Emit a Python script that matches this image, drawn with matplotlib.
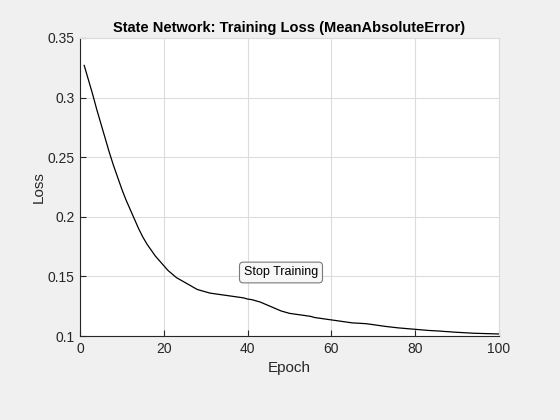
import matplotlib
matplotlib.use('Agg')

import numpy as np
import matplotlib.pyplot as plt

# Training loss per epoch
epochs = list(range(1, 101))
loss = [
    0.327, 0.315, 0.303, 0.290, 0.278, 0.266, 0.254, 0.243, 0.233, 0.223,
    0.214, 0.206, 0.198, 0.190, 0.183, 0.177, 0.172, 0.167, 0.163, 0.159,
    0.155, 0.152, 0.149, 0.147, 0.145, 0.143, 0.141, 0.139, 0.138, 0.137,
    0.136, 0.1355, 0.135, 0.1345, 0.134, 0.1335, 0.133, 0.1325, 0.132, 0.131,
    0.1305, 0.1295, 0.1285, 0.127, 0.1255, 0.124, 0.1225, 0.121, 0.120, 0.119,
    0.1185, 0.118, 0.1175, 0.117, 0.1165, 0.1155, 0.115, 0.1145, 0.114, 0.1135,
    0.113, 0.1125, 0.112, 0.1115, 0.111, 0.1108, 0.1106, 0.1104, 0.110, 0.1095,
    0.109, 0.1085, 0.108, 0.1076, 0.1072, 0.1068, 0.1065, 0.1062, 0.1059, 0.1056,
    0.1053, 0.105, 0.1047, 0.1045, 0.1043, 0.1041, 0.1038, 0.1036, 0.1033, 0.1031,
    0.1029, 0.1027, 0.1025, 0.1023, 0.1022, 0.1021, 0.102, 0.1019, 0.1018, 0.1017,
]

x_ticks = [0, 20, 40, 60, 80, 100]
y_ticks = [0.1, 0.15, 0.2, 0.25, 0.3, 0.35]
y_tick_labels = ['0.1', '0.15', '0.2', '0.25', '0.3', '0.35']

TEXT_COLOR = '#262626'
GRID_COLOR = '#dcdcdc'
BG_COLOR = '#f0f0f0'

plt.rcParams['font.family'] = ['Liberation Sans', 'DejaVu Sans']

fig = plt.figure(figsize=(5.6, 4.2), dpi=100, facecolor=BG_COLOR)
ax = fig.add_axes([80 / 560, 84 / 420, 419 / 560, 298 / 420])
ax.set_facecolor('white')

ax.plot(epochs, loss, color='black', linewidth=0.9)

ax.set_xlim(0, 100)
ax.set_ylim(0.1, 0.35)
ax.set_xticks(x_ticks)
ax.set_yticks(y_ticks)
ax.set_yticklabels(y_tick_labels)
ax.grid(True, color=GRID_COLOR, linewidth=0.8)
ax.set_axisbelow(True)

ax.tick_params(direction='in', length=4, width=0.8, colors=TEXT_COLOR,
               labelsize=10, pad=4)
for side in ['left', 'bottom']:
    ax.spines[side].set_color(TEXT_COLOR)
    ax.spines[side].set_linewidth(0.8)
for side in ['top', 'right']:
    ax.spines[side].set_color(GRID_COLOR)
    ax.spines[side].set_linewidth(0.8)

ax.set_xlabel('Epoch', fontsize=11, color=TEXT_COLOR, labelpad=4)
ax.set_ylabel('Loss', fontsize=11, color=TEXT_COLOR, labelpad=1)
ax.set_title('State Network: Training Loss (MeanAbsoluteError)',
             fontsize=10.5, fontweight='bold', color='black', pad=4)

# "Stop Training" button drawn as a rounded box
fig.text(281 / 560, 1 - 272.5 / 420, 'Stop Training', fontsize=9,
         ha='center', va='center', color='black',
         bbox=dict(boxstyle='round,pad=0.35,rounding_size=0.3',
                   facecolor='#f7f7f7', edgecolor='#7a7a7a', linewidth=0.8))

fig.savefig('out.png', dpi=100, facecolor=BG_COLOR)
